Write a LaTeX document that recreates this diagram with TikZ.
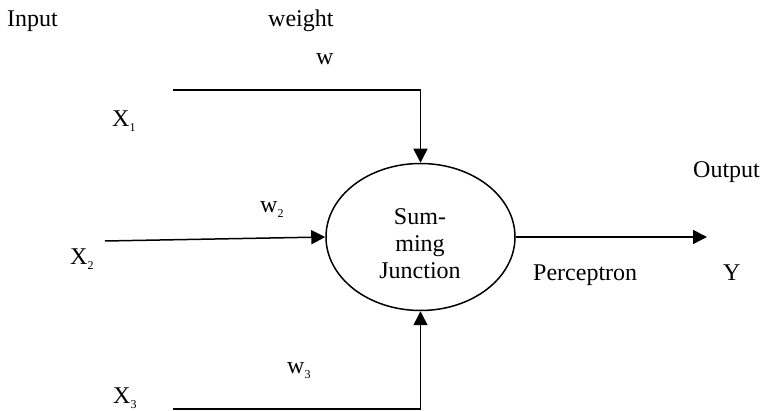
\documentclass[tikz,border=0pt]{standalone}
\usepackage{fontspec}
\setmainfont{Liberation Serif}
\usetikzlibrary{arrows.meta,shapes.geometric}
\newcommand{\sbs}[1]{\raisebox{-5pt}{\fontsize{12}{12}\selectfont #1}}
\begin{document}
\begin{tikzpicture}[x=1pt,y=-1pt,
  lbl/.style={anchor=base west,inner sep=0pt,font=\fontsize{24}{27}\selectfont},
  conn/.style={line width=1.5pt,-{Triangle[length=14pt,width=14pt]}},
  plain/.style={line width=1.5pt}]
\useasboundingbox (0,0) rectangle (764,411);
\node[draw,ellipse,line width=1.5pt,minimum width=189pt,minimum height=147pt,inner sep=0pt] (sum) at (420.5,237) {};
\node[inner sep=0pt,align=center,font=\fontsize{24}{27}\selectfont] (sumtext) at (420,244) {Sum-\\ming\\Junction};
\node[lbl] (input) at (7,27) {Input};
\node[lbl] (weight) at (268,27) {weight};
\node[lbl] (w1) at (316,65) {w};
\node[lbl] (x1) at (112,127) {X\sbs{1}};
\node[lbl] (w2) at (260,213) {w\sbs{2}};
\node[lbl] (x2) at (70,265) {X\sbs{2}};
\node[lbl] (w3) at (287,374) {w\sbs{3}};
\node[lbl] (x3) at (113,404) {X\sbs{3}};
\node[lbl] (output) at (693,178) {Output};
\node[lbl] (perc) at (533,281) {Perceptron};
\node[lbl] (y) at (723,281) {Y};
\coordinate (s1) at (173,90);
\coordinate (s2) at (105,241);
\coordinate (s3) at (173,409);
\coordinate (o) at (707,237);
\draw[conn] (s1) -| (sum.north);
\draw[conn] (s2) -- (sum.west);
\draw[conn] (s3) -| (sum.south);
\draw[conn] (sum.east) -- (o);
\end{tikzpicture}
\end{document}
